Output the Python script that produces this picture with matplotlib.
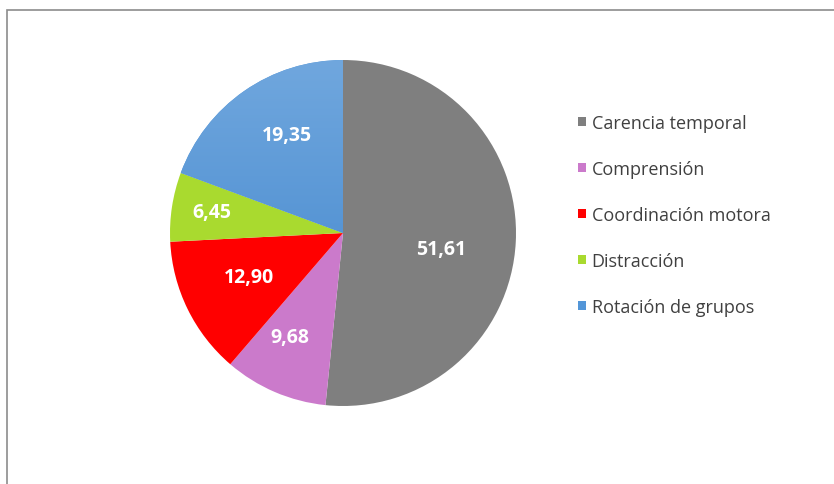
import numpy as np
import matplotlib
matplotlib.use("Agg")
import matplotlib.pyplot as plt
from matplotlib.patches import Rectangle, Patch
from matplotlib.colors import LinearSegmentedColormap

categories = ["Carencia temporal", "Comprensión", "Coordinación motora", "Distracción", "Rotación de grupos"]
values = [51.61, 9.68, 12.90, 6.45, 19.35]
value_labels = ["51,61", "9,68", "12,90", "6,45", "19,35"]
colors = ["#7f7f7f", "#cb7acb", "#ff0000", "#a9da2f", "#5396d8"]
label_dist = [0.575, 0.66, 0.595, 0.769, 0.666]
label_shift = [-4.9, -4.5, -2.6, -1.3, -6.0]

plt.rcParams['font.family'] = ['Open Sans', 'DejaVu Sans']

fig = plt.figure(figsize=(8.34, 4.85), dpi=100)
fig.patch.set_facecolor("white")

# frame (left and top edges visible)
fig.patches.append(Rectangle((7/834, -0.2), 1.2, 1.2 - 11/485, transform=fig.transFigure,
                             fill=False, edgecolor="#8c8c8c", linewidth=1.2, zorder=0))

ax = fig.add_axes([170/834, 1 - 407/485, 346/834, 346/485])
wedges, _ = ax.pie(values, colors=colors, startangle=90, counterclock=False,
                   wedgeprops=dict(linewidth=0))
ax.set_xlim(-1, 1)
ax.set_ylim(-1, 1)
ax.set_aspect("equal")

# gradient on blue wedge
grad = np.linspace(0, 1, 256).reshape(-1, 1)
cmap = LinearSegmentedColormap.from_list("b", ["#3d83cb", "#70a7de"])
im = ax.imshow(grad, extent=(-1, 1, -1, 1), origin="lower", cmap=cmap, aspect="auto", zorder=2)
im.set_clip_path(wedges[4])

for w, lab, d, s in zip(wedges, value_labels, label_dist, label_shift):
    th = np.deg2rad((w.theta1 + w.theta2) / 2 + s)
    ax.text(d * np.cos(th), d * np.sin(th), lab, ha="center", va="center_baseline",
            color="white", fontsize=14, fontweight="bold", zorder=5)

handles = [Patch(facecolor=c, edgecolor="none") for c in colors]
fig.legend(handles, categories, loc="upper left", bbox_to_anchor=(578/834, 1 - 115/485),
           frameon=False, fontsize=13, labelspacing=1.55, handlelength=0.45, handleheight=0.45,
           handletextpad=0.3, labelcolor="#404040", borderaxespad=0, borderpad=0)

fig.savefig("out.png", dpi=100)
